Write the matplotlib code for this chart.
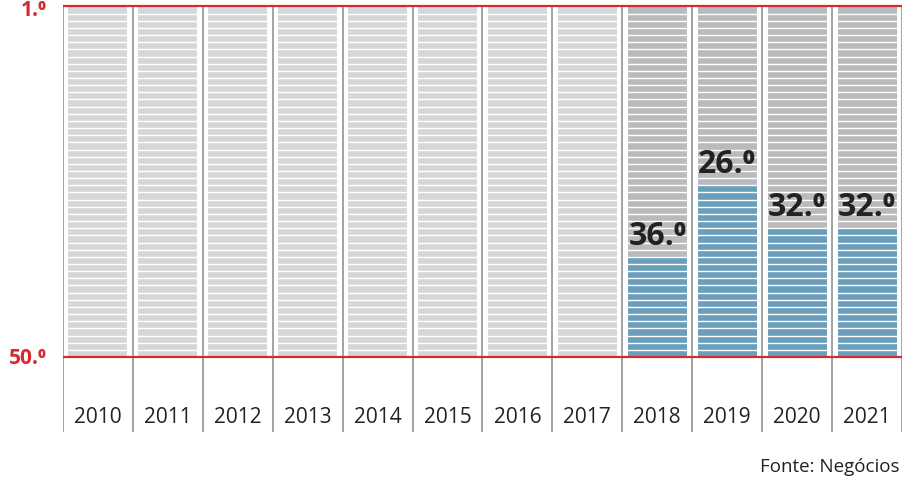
import matplotlib
matplotlib.use("Agg")
import matplotlib.pyplot as plt

years = ["2010", "2011", "2012", "2013", "2014", "2015",
         "2016", "2017", "2018", "2019", "2020", "2021"]
# None = no value for that year
values = [None, None, None, None, None, None, None, None, 36.0, 26.0, 32.0, 32.0]
y_top = 1.0
y_bottom = 50.0

plt.rcParams['font.family'] = ['Open Sans', 'DejaVu Sans']

W, H = 903, 479
fig = plt.figure(figsize=(W / 100, H / 100), dpi=100)
top_px, base_px, end_px = 6.5, 357, 432
left_px, right_px = 63, 902
ax = fig.add_axes([left_px / W, 1 - end_px / H, (right_px - left_px) / W, (end_px - top_px) / H])

unit = (base_px - top_px) / (y_bottom - y_top)
y_end = y_top + (end_px - top_px) / unit
ax.set_xlim(-0.5, len(years) - 0.5)
ax.set_ylim(y_end, y_top)
ax.axis("off")

light = "#d5d6d8"
dark = "#b9babc"
blue = "#6a9fbb"
red = "#d42a32"
bw = 0.845

x = list(range(len(years)))
for i, v in zip(x, values):
    bg = light if v is None else dark
    ax.bar(i, y_bottom - y_top, bottom=y_top, width=bw, color=bg, zorder=1)
    if v is not None:
        ax.bar(i, y_bottom - v, bottom=v, width=bw, color=blue, zorder=2)
        whole = "%d" % v
        ax.text(i, v - 0.6, whole + ".\u2070", ha="center", va="bottom",
                fontsize=23, fontweight="bold", color="#222222", zorder=5)

# white stripes across bars
stripes = [y_top + k for k in range(1, int(y_bottom - y_top))]
ax.hlines(stripes, -0.5, len(years) - 0.5, color="white", lw=1.0, zorder=3)

# column separators
for k in range(len(years) + 1):
    ax.vlines(k - 0.5, y_top, y_end, color="#a3a3a3", lw=1.4, zorder=4)

# red limit lines
ax.hlines([y_top, y_bottom], -0.5, len(years) - 0.5, color=red, lw=1.6, zorder=6, clip_on=False)

for i, yr in zip(x, years):
    ax.text(i, y_top + (418 - top_px) / unit, yr, ha="center", va="center",
            fontsize=15, color="#222222")

for val, px in [(y_top, 11), (y_bottom, 358)]:
    whole = "%d" % val
    ax.text(-0.5 - 16 / 69.9, y_top + (px - top_px) / unit, whole + ".\u2070",
            ha="right", va="center", fontsize=15, fontweight="bold", color=red, clip_on=False)

fig.text(900 / W, 1 - 467 / H, "Fonte: Negócios", ha="right", va="center",
         fontsize=13.5, color="#222222")

fig.savefig("out.png", dpi=100)
